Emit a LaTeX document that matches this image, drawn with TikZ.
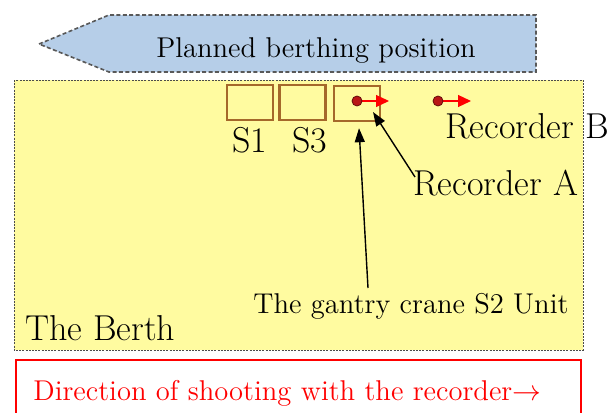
\documentclass[tikz,border=0pt]{standalone}
\usetikzlibrary{arrows.meta}
\definecolor{shipblue}{RGB}{182,206,232}
\definecolor{berthyellow}{RGB}{255,251,160}
\definecolor{unitbrown}{RGB}{165,104,42}
\definecolor{dotred}{RGB}{185,22,22}
\tikzset{
	unitbox/.style={draw=unitbrown, line width=1.2pt, fill=berthyellow, minimum width=23pt, minimum height=17.5pt, inner sep=0pt},
	recdot/.style={circle, draw=dotred!55!black, line width=0.4pt, fill=dotred, inner sep=0pt, minimum size=5pt},
	shootarrow/.style={color=red, line width=0.6pt, -{Triangle[length=6.5pt,width=6pt]}},
	callout/.style={line width=0.7pt, -{Triangle[length=7pt,width=5pt]}},
	bigtext/.style={font=\fontsize{18}{21}\selectfont, inner sep=0pt},
	midtext/.style={font=\fontsize{14.3}{17}\selectfont, inner sep=0pt}
}

\begin{document}
\begin{tikzpicture}[x=0.5pt, y=-0.5pt]
			%%%%% START %%%%%
			\useasboundingbox (0, 0) rectangle (608, 412);
			
			% planned position of the ship
			\draw[draw=black!65, fill=shipblue, line width=0.8pt, dash pattern=on 2pt off 1.2pt]
				(39, 44) -- (109, 15) -- (536, 15) -- (536, 72) -- (109, 72) -- cycle;
			\node[midtext, anchor=base] (plan) at (316, 57) {Planned berthing position};
			
			% the berth
			\draw[draw=black!70, fill=berthyellow, line width=0.5pt, dash pattern=on 1pt off 0.6pt] (14, 80) rectangle (583, 350);
			
			\node[unitbox] (s1) at (250, 102.5) {};
			\node[unitbox] (s3) at (302.5, 102.5) {};
			\node[unitbox] (s2) at (357, 103.5) {};
			\node[bigtext, anchor=base] (s1lab) at (250, 152) {S1};
			\node[bigtext, anchor=base] (s3lab) at (310, 152) {S3};
			
			% recorders
			\coordinate (shotA) at (389, 101);
			\coordinate (shotB) at (471, 101);
			\draw[shootarrow] (357, 101) -- (shotA);
			\node[recdot] (recA) at (357, 101) {};
			\draw[shootarrow] (438, 101) -- (shotB);
			\node[recdot] (recB) at (438, 101) {};
			
			\node[bigtext, anchor=base west] (labB) at (445, 138) {Recorder B};
			\node[bigtext, anchor=base west] (labA) at (413, 195) {Recorder A};
			\coordinate (tailA) at (415, 177);
			\draw[callout] (tailA) -- ([shift={(8pt,-5.5pt)}]recA.center);
			
			\node[midtext, anchor=base west] (gantry) at (253, 313) {The gantry crane S2 Unit};
			\coordinate (tailS2) at (368, 288);
			\draw[callout] (tailS2) -- ([shift={(1pt,-3pt)}]s2.south);
			
			\node[bigtext, anchor=base west] (berth) at (25, 340) {The Berth};
			
			% legend
			\draw[color=red, line width=0.6pt] (16, 360) rectangle (581, 420);
			\node[midtext, anchor=base west, color=red] (legend) at (33, 400) {Direction of shooting with the recorder$\rightarrow$};
			
			%%%%% END %%%%%
		\end{tikzpicture}
\end{document}
